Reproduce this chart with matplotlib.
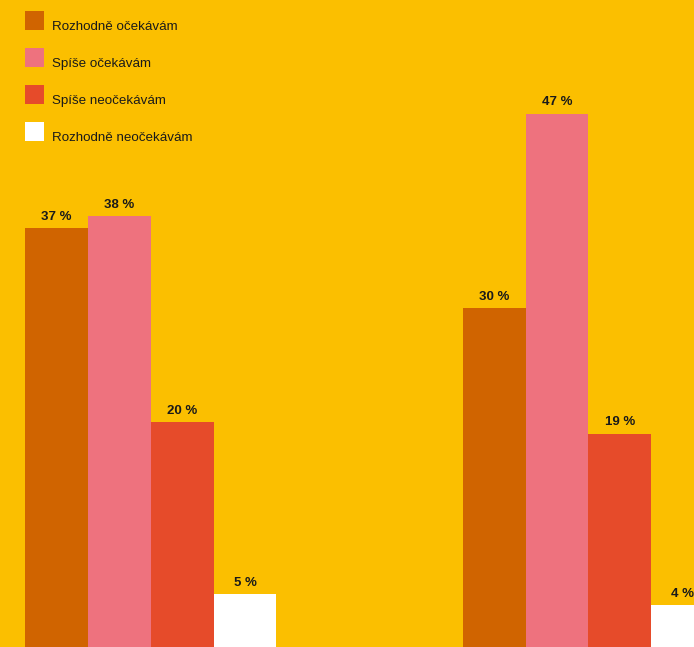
import matplotlib.pyplot as plt
from matplotlib.patches import Rectangle

plt.rcParams['font.family'] = ['Liberation Sans', 'DejaVu Sans']

# data (bar heights, labels rounded)
answers = ["Rozhodně očekávám", "Spíše očekávám", "Spíše neočekávám", "Rozhodně neočekávám"]
group_1 = [36.9, 38.0, 19.8, 4.7]
group_2 = [29.9, 47.0, 18.8, 3.7]
colors = ["#D06400", "#EE727E", "#E64B2A", "#FFFFFF"]
bg = "#FBBF00"

fig = plt.figure(figsize=(6.94, 6.47), dpi=100, facecolor=bg)
ax = fig.add_axes([0, 0, 1, 1])
ax.set_facecolor(bg)

group_start = [0, 6.97]
for start, values in zip(group_start, [group_1, group_2]):
    for i, v in enumerate(values):
        x = start + i + 0.5
        ax.bar(x, v, width=1.0, color=colors[i], linewidth=0)
        ax.text(x, v + 0.45, "%d %%" % round(v), ha="center", va="bottom",
                fontsize=9.5, fontweight="bold", color="#1a1a1a")

ax.set_xlim(-0.4, 10.65)
ax.set_ylim(0, 57)
ax.axis("off")

# legend drawn by hand: squares with text sitting on the square's baseline
W, H = 694.0, 647.0
for i, (lab, c) in enumerate(zip(answers, colors)):
    top = 11 + i * 37
    fig.patches.append(Rectangle((25 / W, 1 - (top + 19) / H), 19 / W, 19 / H,
                                 transform=fig.transFigure, facecolor=c,
                                 edgecolor="none"))
    fig.text(52 / W, 1 - (top + 19) / H, lab, ha="left", va="baseline",
             fontsize=9.6, color="#1a1a1a")

fig.savefig("out.png", dpi=100, facecolor=bg)
